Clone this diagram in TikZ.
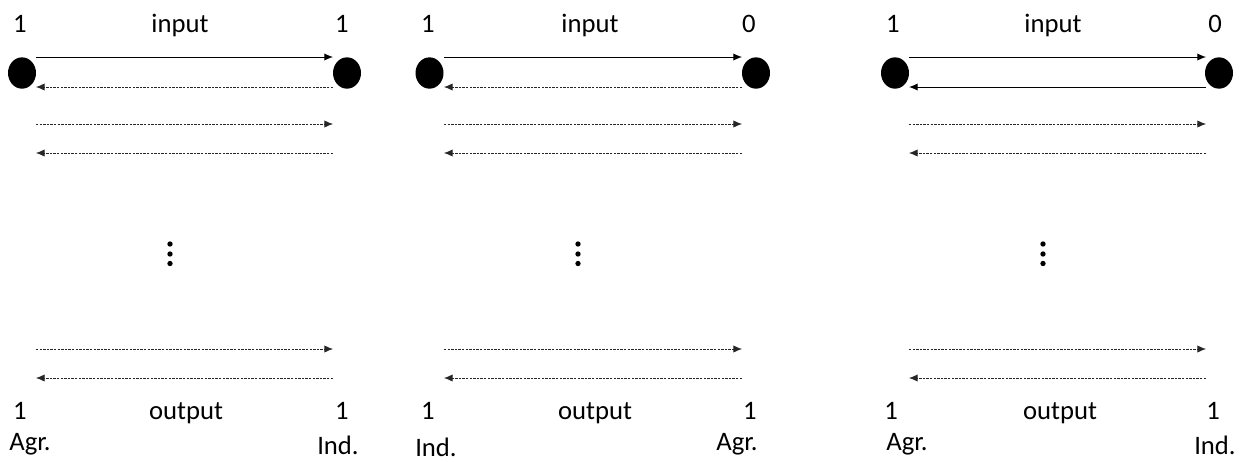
\documentclass[tikz,border=0pt]{standalone}
\usepackage{fontspec}
\setmainfont{Carlito}
\usetikzlibrary{arrows.meta,shapes.geometric}
\begin{document}
\begin{tikzpicture}[x=0.75pt,y=-0.75pt,
  dot/.style={ellipse,fill=black,inner sep=0pt,minimum width=21pt,minimum height=23.5pt},
  lbl/.style={font=\fontsize{20}{23}\selectfont,inner sep=0pt,anchor=base},
  solidarr/.style={-{Latex[length=6.5pt,width=5.5pt]},line width=0.75pt},
  dasharr/.style={solidarr,line width=0.65pt,draw=black!85,dash pattern=on 1.8pt off 0.9pt},
  vdot/.style={circle,fill=black,inner sep=0pt,minimum size=4pt}]
\useasboundingbox (0,0) rectangle (1247,461);
% dots
\node[dot] (aL) at (22,73) {};
\node[dot] (aR) at (347,73) {};
\node[dot] (bL) at (429.5,73) {};
\node[dot] (bR) at (756,73) {};
\node[dot] (cL) at (895,73) {};
\node[dot] (cR) at (1219,73) {};
% arrow end points
\foreach \p/\xa/\xb in {a/36/333,b/444/742,c/909/1206}{
  \foreach \r/\y in {1/57,2/87,3/124,4/153,5/349,6/378}{
    \coordinate (\p\r l) at (\xa,\y);
    \coordinate (\p\r r) at (\xb,\y);
  }
}
\foreach \p in {a,b,c}{
  \draw[solidarr] (\p1l) -- (\p1r);
  \draw[dasharr] (\p3l) -- (\p3r);
  \draw[dasharr] (\p4r) -- (\p4l);
  \draw[dasharr] (\p5l) -- (\p5r);
  \draw[dasharr] (\p6r) -- (\p6l);
}
\draw[dasharr] (a2r) -- (a2l);
\draw[dasharr] (b2r) -- (b2l);
\draw[solidarr] (c2r) -- (c2l);
% vertical ellipses
\foreach \p/\x in {a/170,b/578,c/1043}{
  \node[vdot] (\p v1) at (\x,244) {};
  \node[vdot] (\p v2) at (\x,254) {};
  \node[vdot] (\p v3) at (\x,263.5) {};
}
% top labels
\node[lbl] (at1) at (20,32) {1};
\node[lbl] (ati) at (180,32) {input};
\node[lbl] (at2) at (342,32) {1};
\node[lbl] (bt1) at (428,32) {1};
\node[lbl] (bti) at (590,32) {input};
\node[lbl] (bt2) at (749,32) {0};
\node[lbl] (ct1) at (893,32) {1};
\node[lbl] (cti) at (1053,32) {input};
\node[lbl] (ct2) at (1215,32) {0};
% bottom labels
\node[lbl] (ab1) at (20,419) {1};
\node[lbl] (abo) at (186,419) {output};
\node[lbl] (ab2) at (342,419) {1};
\node[lbl] (bb1) at (428,419) {1};
\node[lbl] (bbo) at (595,419) {output};
\node[lbl] (bb2) at (750,419) {1};
\node[lbl] (cb1) at (891,419) {1};
\node[lbl] (cbo) at (1060,419) {output};
\node[lbl] (cb2) at (1213,419) {1};
% role labels
\node[lbl] (ar1) at (30,450) {Agr.};
\node[lbl] (ar2) at (338,454) {Ind.};
\node[lbl] (br1) at (436,456) {Ind.};
\node[lbl] (br2) at (737,450) {Agr.};
\node[lbl] (cr1) at (907,450) {Agr.};
\node[lbl] (cr2) at (1215,454) {Ind.};
\end{tikzpicture}
\end{document}
